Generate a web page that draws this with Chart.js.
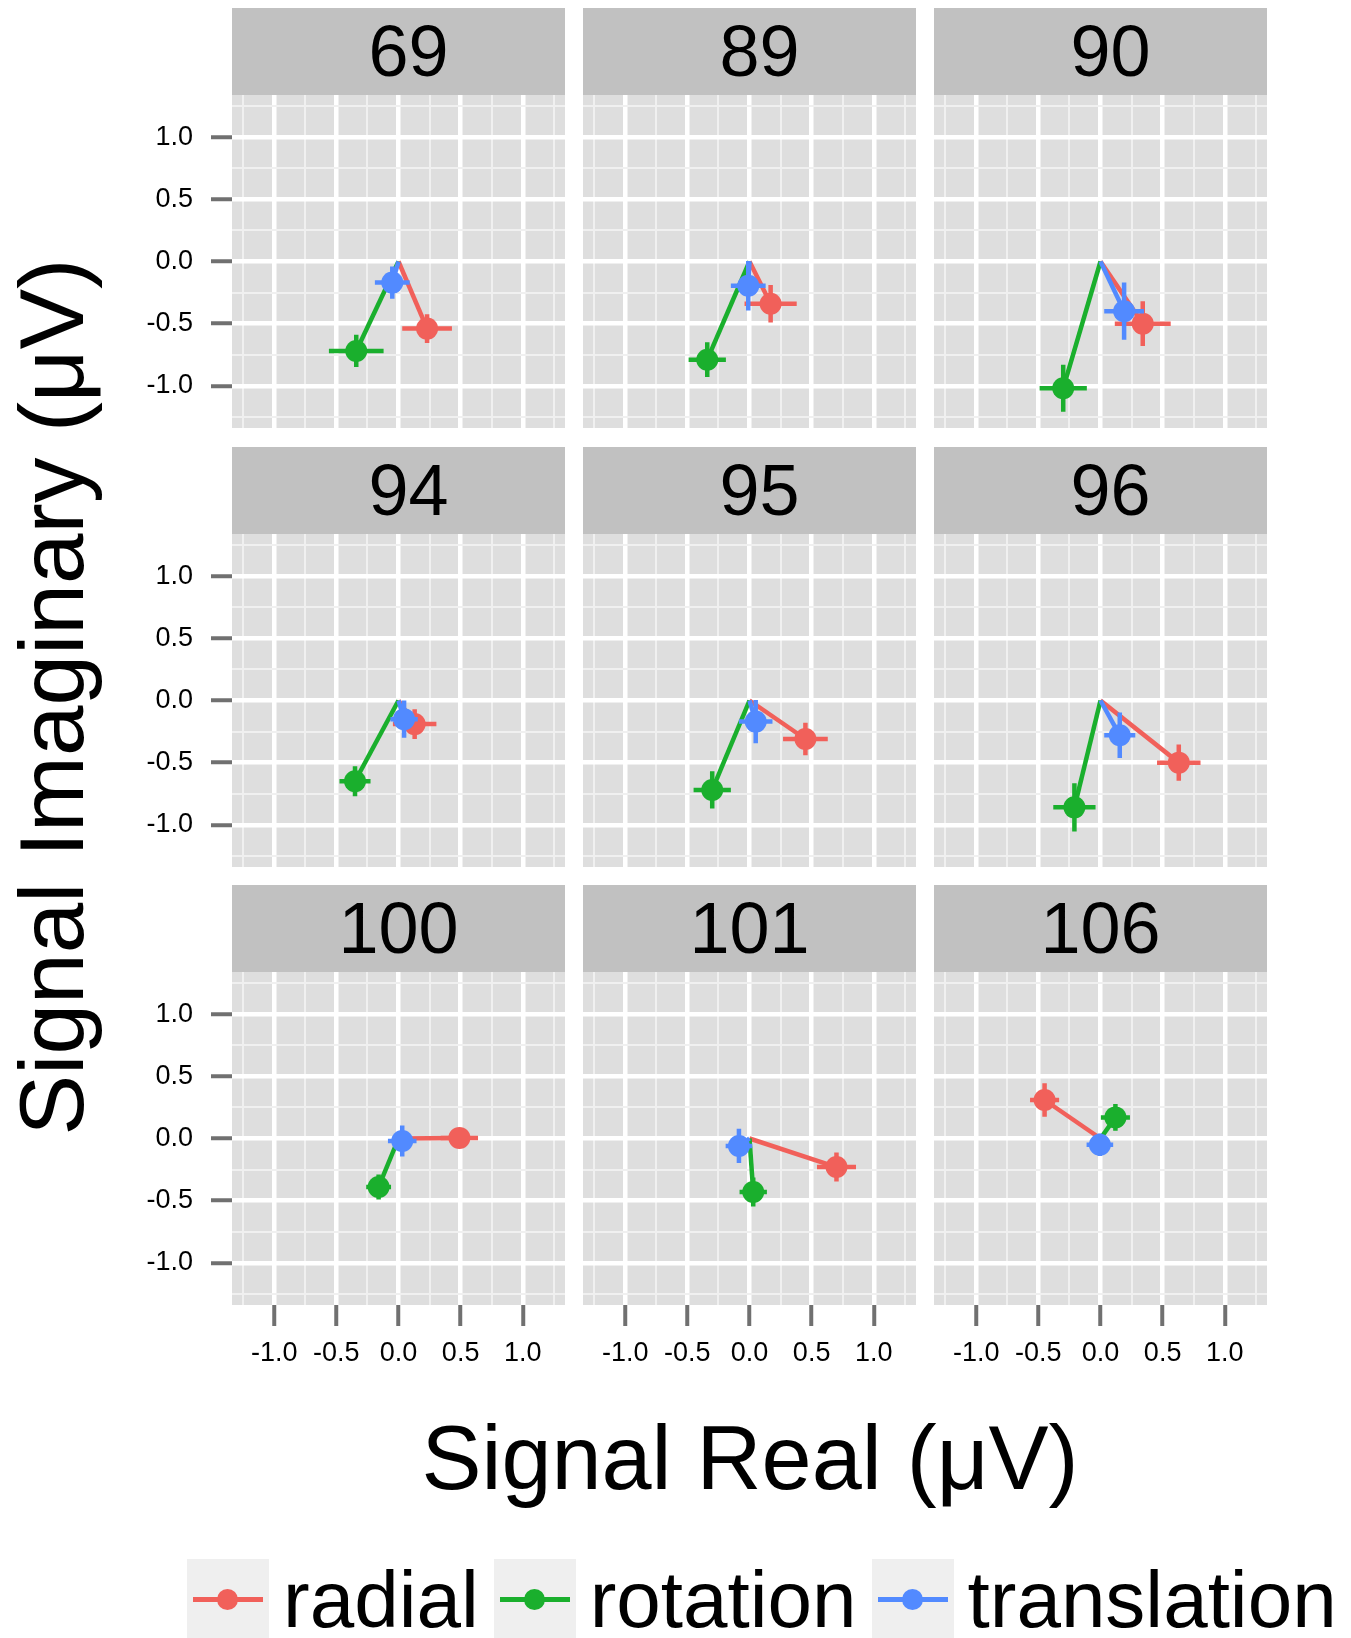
<!DOCTYPE html>
<html>
<head>
<meta charset="utf-8">
<title>Signal Real vs Signal Imaginary</title>
<script src="https://cdn.jsdelivr.net/npm/chart.js@4.4.1/dist/chart.umd.min.js"></script>
<style>
  body { margin: 0; background: #fff; font-family: "Liberation Sans", Arial, sans-serif; }
  #fig { position: relative; width: 1351px; height: 1638px; overflow: hidden; background: #fff; }
  .strip { position: absolute; width: 333px; height: 87px; background: #c1c1c1; color: #000;
           font-size: 72px; line-height: 87px; text-align: center; white-space: pre; }
  .panel { position: absolute; }
  #xtitle { position: absolute; left: 150px; top: 1413px; width: 1200px; height: 90px;
            font-size: 90px; line-height: 90px; text-align: center; white-space: nowrap; }
  #ytitle { position: absolute; left: -448px; top: 652px; width: 1000px; height: 90px;
            font-size: 91px; line-height: 90px; text-align: center; white-space: nowrap;
            transform: rotate(-90deg); }
  #legend { position: absolute; left: 187px; top: 1559px; height: 82px; display: flex; }
  .key { position: relative; width: 82px; height: 82px; background: #efefef; flex: none; }
  .key + .lab { margin-left: 14px; }
  .lab + .key { margin-left: 15px; }
  .key .ln { position: absolute; left: 6px; top: 38px; width: 70px; height: 5px; }
  .key .dot { position: absolute; left: 30px; top: 30px; width: 21px; height: 21px; border-radius: 50%; }
  .lab { font-size: 80px; line-height: 82px; white-space: nowrap; }
</style>
</head>
<body>
<div id="fig">
  <div id="ytitle">Signal Imaginary (μV)</div>
  <div id="xtitle">Signal Real (μV)</div>
  <div id="legend"></div>
</div>
<script>
const FONT = "'Liberation Sans', Arial, sans-serif";

// facet labels (padded like the original factor levels)
const panelIds = [' 69', ' 89', ' 90', ' 94', ' 95', ' 96', '100', '101', '106'];
const seriesNames = ['radial', 'rotation', 'translation'];
const seriesColors = ['#f1605a', '#1aaf2d', '#528aff'];

// mean signal per facet, real and imaginary part (µV)
const radialRe      = [0.23, 0.17, 0.34, 0.13, 0.45, 0.63, 0.49, 0.70, -0.45];
const radialIm      = [-0.54, -0.34, -0.50, -0.19, -0.31, -0.50, 0.005, -0.23, 0.31];
const rotationRe    = [-0.34, -0.34, -0.30, -0.35, -0.30, -0.21, -0.16, 0.03, 0.12];
const rotationIm    = [-0.72, -0.79, -1.02, -0.65, -0.72, -0.86, -0.39, -0.43, 0.17];
const translationRe = [-0.05, -0.01, 0.19, 0.045, 0.05, 0.155, 0.03, -0.085, -0.005];
const translationIm = [-0.17, -0.195, -0.40, -0.15, -0.17, -0.28, -0.02, -0.06, -0.05];

// error half-widths, real and imaginary
const radialReErr      = [0.20, 0.21, 0.225, 0.175, 0.18, 0.175, 0.15, 0.157, 0.117];
const radialImErr      = [0.115, 0.15, 0.18, 0.12, 0.13, 0.145, 0.08, 0.117, 0.135];
const rotationReErr    = [0.22, 0.15, 0.19, 0.125, 0.15, 0.17, 0.10, 0.11, 0.117];
const rotationImErr    = [0.13, 0.14, 0.19, 0.12, 0.15, 0.195, 0.10, 0.117, 0.107];
const translationReErr = [0.14, 0.14, 0.16, 0.11, 0.135, 0.125, 0.115, 0.107, 0.107];
const translationImErr = [0.13, 0.20, 0.23, 0.15, 0.175, 0.183, 0.125, 0.138, 0.09];

// axis ticks
const majorTicks = [-1, -0.5, 0, 0.5, 1];
const majorTickLabels = ['-1.0', '-0.5', '0.0', '0.5', '1.0'];
const minorTicks = [-1.25, -0.75, -0.25, 0.25, 0.75, 1.25];
const axisMin = -1.34, axisMax = 1.34;

const seriesRe = [radialRe, rotationRe, translationRe];
const seriesIm = [radialIm, rotationIm, translationIm];
const seriesReErr = [radialReErr, rotationReErr, translationReErr];
const seriesImErr = [radialImErr, rotationImErr, translationImErr];

const isMajor = v => majorTicks.includes(v);

// grey panel background behind the grid
const panelBg = {
  id: 'panelBg',
  beforeDraw(chart) {
    const a = chart.chartArea, ctx = chart.ctx;
    ctx.save();
    ctx.fillStyle = '#dedede';
    ctx.fillRect(a.left, a.top, a.right - a.left, a.bottom - a.top);
    ctx.restore();
  }
};

// cross-shaped error bars, drawn just under each point marker
const errorBars = {
  id: 'errorBars',
  beforeDatasetDraw(chart, args) {
    const ds = chart.data.datasets[args.index];
    if (!ds.err) return;
    const xs = chart.scales.x, ys = chart.scales.y, ctx = chart.ctx;
    ctx.save();
    ctx.strokeStyle = ds.backgroundColor;
    ctx.lineWidth = 4.5;
    ds.data.forEach((p, i) => {
      const e = ds.err[i];
      ctx.beginPath();
      ctx.moveTo(xs.getPixelForValue(p.x - e.x), ys.getPixelForValue(p.y));
      ctx.lineTo(xs.getPixelForValue(p.x + e.x), ys.getPixelForValue(p.y));
      ctx.moveTo(xs.getPixelForValue(p.x), ys.getPixelForValue(p.y - e.y));
      ctx.lineTo(xs.getPixelForValue(p.x), ys.getPixelForValue(p.y + e.y));
      ctx.stroke();
    });
    ctx.restore();
  }
};

function axis(show, horizontal) {
  return {
    type: 'linear',
    position: horizontal ? 'bottom' : 'left',
    min: axisMin,
    max: axisMax,
    afterBuildTicks: s => {
      s.ticks = minorTicks.concat(majorTicks).sort((a, b) => a - b).map(v => ({ value: v }));
    },
    afterFit: s => {
      if (horizontal) s.height = show ? 70 : 0;
      else s.width = show ? 100 : 0;
      s.paddingTop = s.paddingBottom = s.paddingLeft = s.paddingRight = 0;
    },
    border: { display: false },
    grid: {
      color: c => (c.tick && isMajor(c.tick.value)) ? '#ffffff' : '#f0f0f0',
      lineWidth: c => (c.tick && isMajor(c.tick.value)) ? 4.5 : 2,
      drawTicks: show,
      tickLength: 21,
      tickWidth: 4,
      tickColor: c => (c.tick && isMajor(c.tick.value)) ? '#707070' : 'rgba(0,0,0,0)'
    },
    ticks: {
      display: show,
      autoSkip: false,
      maxRotation: 0,
      minRotation: 0,
      padding: horizontal ? 14 : 18,
      color: '#000',
      font: { family: FONT, size: 27, lineHeight: 1 },
      callback: v => {
        const i = majorTicks.indexOf(v);
        return i < 0 ? '' : majorTickLabels[i];
      }
    }
  };
}

const fig = document.getElementById('fig');

panelIds.forEach((id, p) => {
  const row = Math.floor(p / 3), col = p % 3;
  const left = 232 + col * 351;
  const top = Math.round(8 + row * 438.5);
  const showY = col === 0, showX = row === 2;
  const axW = showY ? 100 : 0, axH = showX ? 70 : 0;

  const strip = document.createElement('div');
  strip.className = 'strip';
  strip.style.left = left + 'px';
  strip.style.top = top + 'px';
  strip.textContent = id;
  fig.appendChild(strip);

  const canvas = document.createElement('canvas');
  canvas.className = 'panel';
  canvas.width = 333 + axW;
  canvas.height = 333 + axH;
  canvas.style.left = (left - axW) + 'px';
  canvas.style.top = (top + 87) + 'px';
  canvas.style.width = canvas.width + 'px';
  canvas.style.height = canvas.height + 'px';
  fig.appendChild(canvas);

  // segments from the origin to each mean, then the markers on top
  const segments = seriesNames.map((name, s) => ({
    label: name,
    data: [{ x: 0, y: 0 }, { x: seriesRe[s][p], y: seriesIm[s][p] }],
    showLine: true,
    borderColor: seriesColors[s],
    borderWidth: 4.5,
    pointRadius: 0,
    order: 6 - s
  }));
  const markers = seriesNames.map((name, s) => ({
    label: name,
    data: [{ x: seriesRe[s][p], y: seriesIm[s][p] }],
    err: [{ x: seriesReErr[s][p], y: seriesImErr[s][p] }],
    backgroundColor: seriesColors[s],
    borderWidth: 0,
    pointRadius: 11,
    order: 3 - s
  }));

  new Chart(canvas, {
    type: 'scatter',
    data: { datasets: segments.concat(markers) },
    options: {
      responsive: false,
      animation: false,
      events: [],
      layout: { padding: 0, autoPadding: false },
      plugins: { legend: { display: false }, tooltip: { enabled: false } },
      scales: { x: axis(showX, true), y: axis(showY, false) }
    },
    plugins: [panelBg, errorBars]
  });
});

// legend row
const legend = document.getElementById('legend');
seriesNames.forEach((name, s) => {
  const key = document.createElement('div');
  key.className = 'key';
  key.innerHTML = '<div class="ln"></div><div class="dot"></div>';
  key.querySelector('.ln').style.background = seriesColors[s];
  key.querySelector('.dot').style.background = seriesColors[s];
  legend.appendChild(key);
  const lab = document.createElement('div');
  lab.className = 'lab';
  lab.textContent = name;
  legend.appendChild(lab);
});
</script>
</body>
</html>
